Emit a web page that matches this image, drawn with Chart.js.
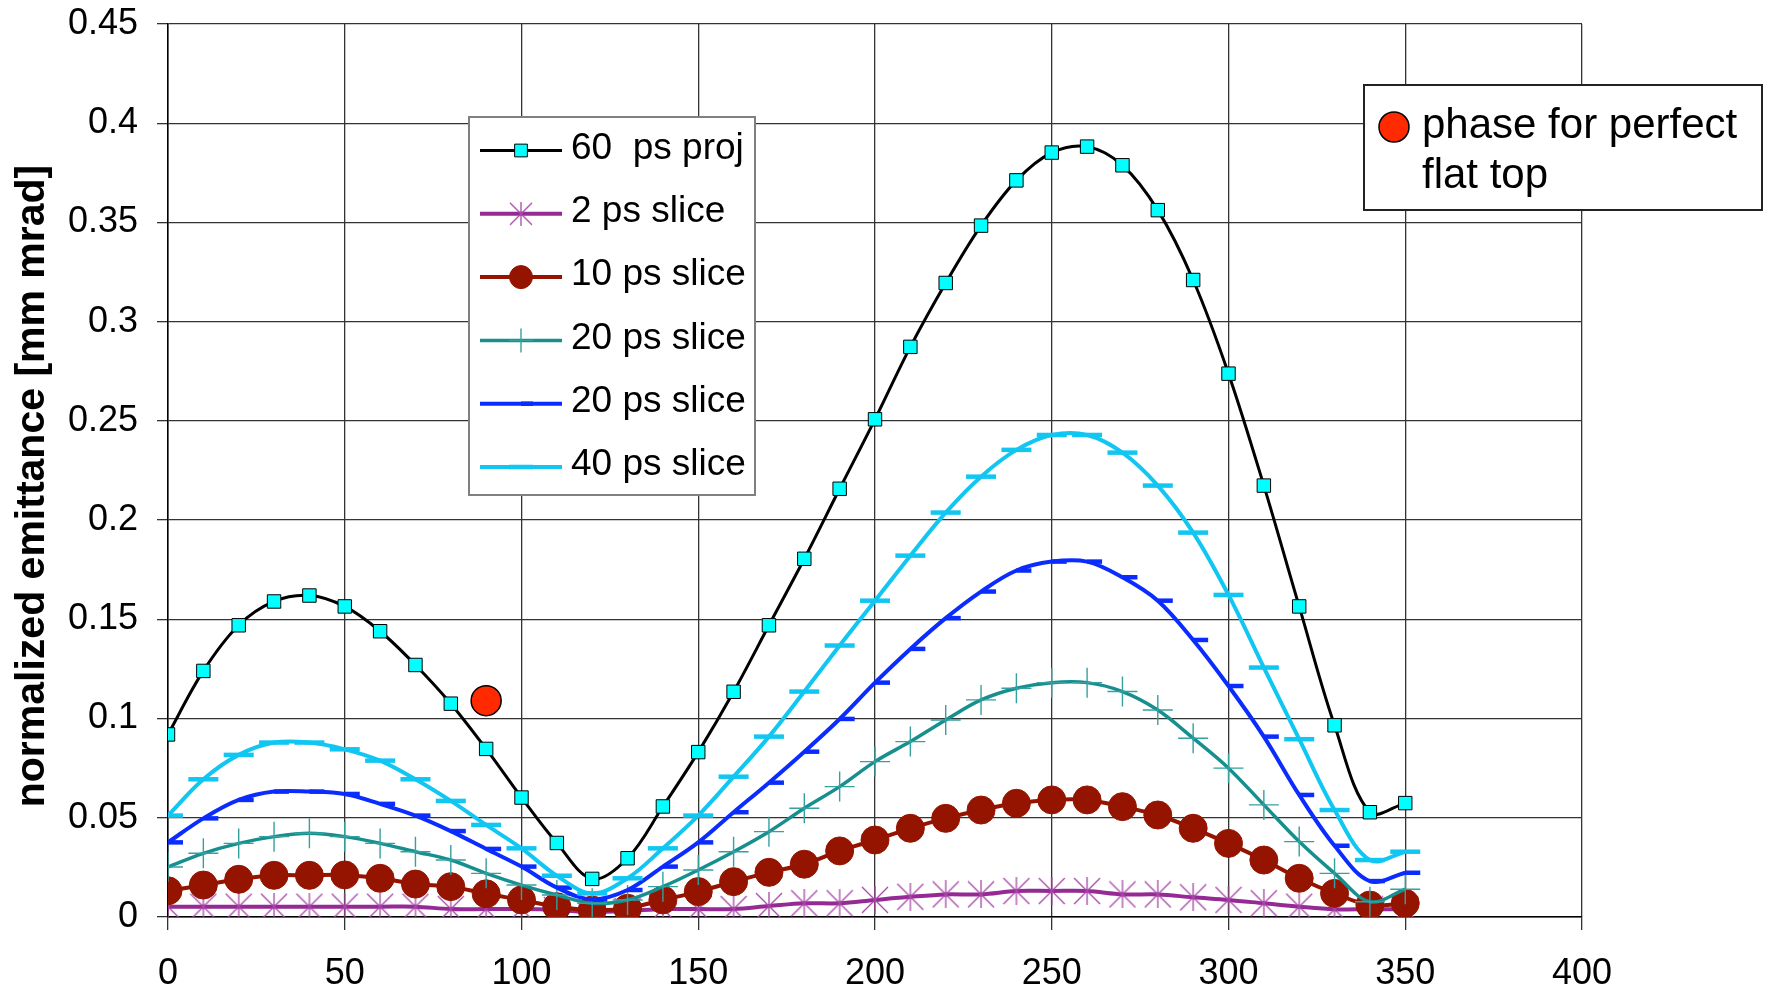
<!DOCTYPE html>
<html>
<head>
<meta charset="utf-8">
<title>normalized emittance vs phase</title>
<script src="https://cdn.jsdelivr.net/npm/chart.js@4.4.1/dist/chart.umd.min.js"></script>
<style>
  html, body { margin: 0; padding: 0; background: #fff; }
  #wrap { width: 1771px; height: 994px; }
</style>
</head>
<body>
<div id="wrap"><canvas id="grafico" width="1771" height="994"></canvas></div>
<script>
// phase (x) values
const phase = [0, 10, 20, 30, 40, 50, 60, 70, 80, 90, 100, 110, 120, 130, 140, 150, 160, 170,
  180, 190, 200, 210, 220, 230, 240, 250, 260, 270, 280, 290, 300, 310, 320, 330, 340, 350];

// series
const proj60 = [0.092, 0.124, 0.147, 0.159, 0.162, 0.1565, 0.144, 0.127, 0.1075, 0.0847, 0.0602, 0.0373, 0.0192, 0.0296, 0.0557, 0.0831, 0.1135, 0.147,
  0.1805, 0.2158, 0.2508, 0.2873, 0.3195, 0.3484, 0.3712, 0.3852, 0.3882, 0.3788, 0.3562, 0.321, 0.2738, 0.2174, 0.1565, 0.0966, 0.0528, 0.0574];
const slice2 = [0.0052, 0.0052, 0.0052, 0.0052, 0.0052, 0.0052, 0.0052, 0.0052, 0.004, 0.004, 0.004, 0.0035, 0.0025, 0.003, 0.004, 0.004, 0.004, 0.0055,
  0.0069, 0.0069, 0.0086, 0.0102, 0.0114, 0.0114, 0.0131, 0.0131, 0.0131, 0.0114, 0.0114, 0.0099, 0.0086, 0.0069, 0.0052, 0.0039, 0.0039, 0.0039];
const slice10 = [0.0132, 0.0161, 0.019, 0.021, 0.021, 0.0212, 0.0195, 0.0166, 0.0153, 0.0117, 0.0086, 0.0052, 0.0035, 0.0044, 0.0086, 0.0128, 0.0178, 0.0225,
  0.0266, 0.0333, 0.0388, 0.0447, 0.0497, 0.0539, 0.0573, 0.059, 0.059, 0.0556, 0.0514, 0.0447, 0.0371, 0.0287, 0.0195, 0.0119, 0.006, 0.0069];
const slice20a = [0.0252, 0.0321, 0.0371, 0.0405, 0.0422, 0.0405, 0.0371, 0.0329, 0.0287, 0.022, 0.0161, 0.0111, 0.0069, 0.0086, 0.0153, 0.0237, 0.0329, 0.043,
  0.0548, 0.0657, 0.0783, 0.0884, 0.0993, 0.1094, 0.1153, 0.1181, 0.1181, 0.1136, 0.1043, 0.0901, 0.075, 0.0565, 0.038, 0.022, 0.0077, 0.014];
const slice20b = [0.0376, 0.0497, 0.059, 0.0632, 0.0632, 0.062, 0.057, 0.0511, 0.0433, 0.0343, 0.0254, 0.0148, 0.0089, 0.0136, 0.0254, 0.0376, 0.0528, 0.0677,
  0.0833, 0.0998, 0.1181, 0.1351, 0.1506, 0.164, 0.1746, 0.1791, 0.1791, 0.1712, 0.1594, 0.1396, 0.1164, 0.0909, 0.0615, 0.0359, 0.0181, 0.0223];
const slice40 = [0.0511, 0.0694, 0.0817, 0.0879, 0.0879, 0.0845, 0.0788, 0.0694, 0.0585, 0.0464, 0.0346, 0.0208, 0.0119, 0.0195, 0.0346, 0.0511, 0.0707, 0.0909,
  0.1136, 0.1368, 0.1594, 0.1821, 0.2038, 0.2219, 0.2354, 0.2429, 0.2429, 0.234, 0.2174, 0.1937, 0.1623, 0.1257, 0.0896, 0.0539, 0.0287, 0.0329];

// single marked point
const flatTopPhase = [90];
const flatTopEmit = [0.109];

// axis ticks
const xTickValues = [0, 50, 100, 150, 200, 250, 300, 350, 400];
const xTickLabels = ["0", "50", "100", "150", "200", "250", "300", "350", "400"];
const yTickValues = [0, 0.05, 0.1, 0.15, 0.2, 0.25, 0.3, 0.35, 0.4, 0.45];
const yTickLabels = ["0", "0.05", "0.1", "0.15", "0.2", "0.25", "0.3", "0.35", "0.4", "0.45"];

const seriesNames = ["60  ps proj", "2 ps slice", "10 ps slice", "20 ps slice", "20 ps slice", "40 ps slice"];
const flatTopName = ["phase for perfect", "flat top"];
const yTitle = "normalized emittance [mm mrad]";

const FONT = "'Liberation Sans', Arial, sans-serif";

const puntos = (ys) => phase.map((p, i) => ({ x: p, y: ys[i] }));

// excel style "*" marker: an X with a vertical bar
function asterisco(size, color) {
  const c = document.createElement("canvas");
  c.width = size;
  c.height = size;
  const g = c.getContext("2d");
  g.strokeStyle = color;
  g.lineWidth = 1.3;
  const m = size / 2;
  g.beginPath();
  g.moveTo(1, 1); g.lineTo(size - 1, size - 1);
  g.moveTo(size - 1, 1); g.lineTo(1, size - 1);
  g.moveTo(m, 0); g.lineTo(m, size);
  g.stroke();
  return c;
}
const starBig = asterisco(28, "#A847A8");
const starSmall = asterisco(24, "#A847A8");

const datasets = [
  {
    label: seriesNames[0], data: puntos(proj60),
    borderColor: "#000000", borderWidth: 3,
    pointStyle: "rect", pointRadius: 9.5,
    pointBackgroundColor: "#00FFFF", pointBorderColor: "#000000", pointBorderWidth: 1,
    order: 6
  },
  {
    label: seriesNames[1], data: puntos(slice2),
    borderColor: "#952A95", borderWidth: 4,
    pointStyle: starBig, pointRadius: 14,
    pointBackgroundColor: "#A847A8", pointBorderColor: "#A847A8", pointBorderWidth: 1,
    order: 5
  },
  {
    label: seriesNames[2], data: puntos(slice10),
    borderColor: "#941400", borderWidth: 4,
    pointStyle: "circle", pointRadius: 14,
    pointBackgroundColor: "#941400", pointBorderColor: "#941400", pointBorderWidth: 1,
    order: 4
  },
  {
    label: seriesNames[3], data: puntos(slice20a),
    borderColor: "#178F8F", borderWidth: 3.5,
    pointStyle: "cross", pointRadius: 15,
    pointBackgroundColor: "#35A0A0", pointBorderColor: "#35A0A0", pointBorderWidth: 1.4,
    order: 3
  },
  {
    label: seriesNames[4], data: puntos(slice20b),
    borderColor: "#0B2CFF", borderWidth: 4,
    pointStyle: "dash", pointRadius: 15,
    pointBackgroundColor: "#0B2CFF", pointBorderColor: "#0B2CFF", pointBorderWidth: 4.5,
    order: 2
  },
  {
    label: seriesNames[5], data: puntos(slice40),
    borderColor: "#12C6F2", borderWidth: 4,
    pointStyle: "line", pointRadius: 15,
    pointBackgroundColor: "#12C6F2", pointBorderColor: "#12C6F2", pointBorderWidth: 4.5,
    order: 1
  },
  {
    label: flatTopName.join(" "),
    data: flatTopPhase.map((p, i) => ({ x: p, y: flatTopEmit[i] })),
    showLine: false,
    pointStyle: "circle", pointRadius: 15,
    pointBackgroundColor: "#FF2A00", pointBorderColor: "#000000", pointBorderWidth: 1.5,
    order: 0
  }
];

// y title and the two framed legends drawn on top of the plot
const legendBoxes = {
  id: "legendBoxes",
  afterDatasetsDraw(chart) {
    const ctx = chart.ctx;
    const ds = chart.data.datasets;
    ctx.save();

    // axis title
    ctx.save();
    ctx.translate(33, 486);
    ctx.rotate(-Math.PI / 2);
    ctx.fillStyle = "#000000";
    ctx.font = "bold 41px " + FONT;
    ctx.textAlign = "center";
    ctx.textBaseline = "middle";
    ctx.fillText(yTitle, 0, 0);
    ctx.restore();

    // series legend
    ctx.fillStyle = "#FFFFFF";
    ctx.strokeStyle = "#808080";
    ctx.lineWidth = 2;
    ctx.fillRect(469, 117, 286, 378);
    ctx.strokeRect(469, 117, 286, 378);

    for (let i = 0; i < 6; i++) {
      const d = ds[i];
      const y = 150.5 + i * 63.3;
      ctx.strokeStyle = d.borderColor;
      ctx.lineWidth = d.borderWidth;
      ctx.beginPath();
      ctx.moveTo(480, y);
      ctx.lineTo(562, y);
      ctx.stroke();

      ctx.fillStyle = d.pointBackgroundColor;
      ctx.strokeStyle = d.pointBorderColor;
      ctx.lineWidth = d.pointBorderWidth;
      Chart.helpers.drawPoint(ctx, {
        pointStyle: i === 1 ? starSmall : d.pointStyle,
        rotation: 0,
        radius: d.pointStyle === "circle" ? 11.5 : (d.pointStyle === "rect" ? 9 : 12),
        borderWidth: d.pointBorderWidth
      }, 521, y);

      ctx.fillStyle = "#000000";
      ctx.font = "37px " + FONT;
      ctx.textAlign = "left";
      ctx.textBaseline = "middle";
      ctx.fillText(d.label, 571, y - 2);
    }

    // flat top legend
    ctx.fillStyle = "#FFFFFF";
    ctx.strokeStyle = "#222222";
    ctx.lineWidth = 2;
    ctx.fillRect(1364, 85, 398, 125);
    ctx.strokeRect(1364, 85, 398, 125);

    const f = ds[6];
    ctx.fillStyle = f.pointBackgroundColor;
    ctx.strokeStyle = f.pointBorderColor;
    ctx.lineWidth = f.pointBorderWidth;
    Chart.helpers.drawPoint(ctx, { pointStyle: "circle", rotation: 0, radius: 15, borderWidth: 1.5 }, 1394, 127);

    ctx.fillStyle = "#000000";
    ctx.font = "42px " + FONT;
    ctx.textAlign = "left";
    ctx.textBaseline = "alphabetic";
    ctx.fillText(flatTopName[0], 1422, 138);
    ctx.fillText(flatTopName[1], 1422, 188);

    ctx.restore();
  }
};

const ctx = document.getElementById("grafico");

new Chart(ctx, {
  type: "line",
  data: { datasets },
  plugins: [legendBoxes],
  options: {
    responsive: false,
    animation: false,
    devicePixelRatio: 1,
    layout: { padding: { top: 24, right: 189, bottom: 0, left: 0 } },
    elements: { line: { tension: 0.35 } },
    plugins: {
      legend: { display: false },
      tooltip: { enabled: false }
    },
    scales: {
      x: {
        type: "linear",
        min: 0, max: 400,
        afterBuildTicks: (scale) => { scale.ticks = xTickValues.map(v => ({ value: v })); },
        afterFit: (scale) => { scale.height = 77; scale.paddingLeft = 0; scale.paddingRight = 0; },
        ticks: {
          color: "#000000",
          font: { family: FONT, size: 36 },
          padding: 22,
          maxRotation: 0,
          autoSkip: false,
          callback: (v, i) => xTickLabels[i]
        },
        grid: { color: "#333333", lineWidth: 1.3, tickLength: 13, drawTicks: true },
        border: { color: "#000000", width: 1.5 }
      },
      y: {
        type: "linear",
        min: 0, max: 0.45,
        afterBuildTicks: (scale) => { scale.ticks = yTickValues.map(v => ({ value: v })); },
        afterFit: (scale) => { scale.width = 168; scale.paddingTop = 0; scale.paddingBottom = 0; },
        ticks: {
          color: "#000000",
          font: { family: FONT, size: 36 },
          padding: 19,
          autoSkip: false,
          callback: (v, i) => yTickLabels[i]
        },
        grid: { color: "#333333", lineWidth: 1.3, tickLength: 11, drawTicks: true },
        border: { color: "#000000", width: 1.5 }
      }
    }
  }
});
</script>
</body>
</html>
